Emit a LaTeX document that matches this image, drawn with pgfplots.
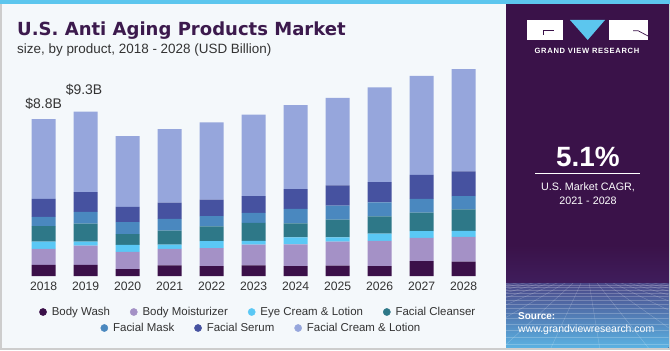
\documentclass[border=0pt]{standalone}
\usepackage{pgfplots}
\pgfplotsset{compat=1.18}
\usepackage{pgfplotstable}
\usepackage{fontspec}
\setmainfont{Liberation Sans}
\newfontfamily\titlefont{DejaVu Sans}
\newfontfamily\logofont{Liberation Sans}[LetterSpace=9]

\definecolor{bw}{HTML}{3B1049}
\definecolor{bm}{HTML}{A491C6}
\definecolor{eye}{HTML}{5AC8F5}
\definecolor{fc}{HTML}{2E7888}
\definecolor{fm}{HTML}{4A88BF}
\definecolor{se}{HTML}{4652A0}
\definecolor{cr}{HTML}{96A6DC}
\definecolor{titlec}{HTML}{3C1A4D}
\definecolor{subc}{HTML}{333333}
\definecolor{panel}{HTML}{3A1249}
\definecolor{panelup}{HTML}{3F1D5C}
\definecolor{strip}{HTML}{5CC6EE}
\definecolor{bgc}{HTML}{F4F8FB}
\definecolor{borderc}{HTML}{CDCDCD}
\definecolor{panelmid}{HTML}{4A4788}
\definecolor{panelbot}{HTML}{5BB2E2}

\pgfplotstableread{
x bw bm eye fc fm se cr
0 0.62 0.90 0.41 0.88 0.52 1.00 4.49
1 0.62 1.09 0.23 1.00 0.66 1.11 4.54
2 0.39 0.97 0.39 0.60 0.68 0.86 3.98
3 0.60 0.92 0.24 0.79 0.66 0.92 4.13
4 0.56 1.01 0.39 0.83 0.58 0.92 4.35
5 0.60 1.17 0.21 1.01 0.56 0.94 4.58
6 0.56 1.22 0.39 0.79 0.81 1.11 4.73
7 0.58 1.35 0.24 1.00 0.79 1.14 4.92
8 0.55 1.42 0.41 0.97 0.79 1.14 5.33
9 0.83 1.31 0.39 1.03 0.77 1.35 5.57
10 0.81 1.39 0.34 1.20 0.75 1.39 5.76
}\data

\begin{document}
\begin{tikzpicture}[x=1bp,y=1bp]
\useasboundingbox (0,0) rectangle (670,350);
% frame and backgrounds
\fill[borderc] (0,0) rectangle (670,350);
\fill[bgc] (1.5,2.5) rectangle (668.5,346);
\fill[strip] (0,345.5) rectangle (670,350);
\fill[panel] (506,2.5) rectangle (668.5,345.5);
\shade[top color=panel, bottom color=panelup] (506,67) rectangle (668.5,105);
\shade[top color=panelmid, bottom color=panelbot] (506,2.5) rectangle (668.5,67);
\begin{scope}
\clip (506,2.5) rectangle (668.5,67);
\foreach \yy in {6,13,20,26,32,37,42,46,50,54,57,60,62.5,64.8}{
  \draw[white, opacity=0.22, line width=0.45] (506,\yy) -- (668.5,\yy);
}
\foreach \xx in {-400,-350,...,1500}{
  \draw[white, opacity=0.22, line width=0.45] (\xx,0) -- ({587+0.06*(\xx-587)},75);
}
\end{scope}
% logo
\fill[white] (527,310) rectangle (563,330);
\draw[panel, line width=0.7] (543.5,315.5) -- (543.5,319.3) -- (554,319.3);
\fill[strip] (570,330) -- (605,330) -- (587.7,310) -- cycle;
\fill[white] (609,310) rectangle (648,330);
\draw[panel, line width=0.7] (633,319.3) -- (638,319.3) -- (648,314);
\node[white, inner sep=0, font=\logofont\bfseries\fontsize{7.6}{9}\selectfont] at (587,299.5) {GRAND VIEW RESEARCH};
% CAGR
\node[anchor=base, white, inner sep=0, font=\bfseries\fontsize{28}{30}\selectfont] at (588,184) {5.1\%};
\draw[white, line width=0.9] (535,177) -- (640,177);
\node[anchor=base, white, inner sep=0, font=\fontsize{10.8}{12}\selectfont] at (588,160) {U.S. Market CAGR,};
\node[anchor=base, white, inner sep=0, font=\fontsize{10.8}{12}\selectfont] at (588,146) {2021 - 2028};
\node[anchor=base west, white, inner sep=0, font=\bfseries\fontsize{10}{12}\selectfont] at (518,31) {Source:};
\node[anchor=base west, white, inner sep=0, font=\fontsize{10.5}{12}\selectfont] at (518,18) {www.grandviewresearch.com};
% titles
\node[anchor=base west, inner sep=0, text=titlec, font=\titlefont\bfseries\fontsize{18.1}{20}\selectfont] at (17,315) {U.S. Anti Aging Products Market};
\node[anchor=base west, inner sep=0, text=subc, font=\fontsize{13.5}{15}\selectfont] at (17,296.7) {size, by product, 2018 - 2028 (USD Billion)};

\begin{axis}[
  at={(22.7bp,74bp)}, anchor=south west,
  scale only axis, width=462bp, height=213.4bp,
  xmin=-0.5, xmax=10.5, ymin=0, ymax=12,
  ybar stacked, bar width=24bp,
  axis line style={draw=none},
  ytick=\empty,
  xtick={0,1,2,3,4,5,6,7,8,9,10},
  xticklabels={2018,2019,2020,2021,2022,2023,2024,2025,2026,2027,2028},
  major tick length=0pt,
  xticklabel style={font=\fontsize{12.2}{14}\selectfont, text=subc, inner sep=0pt, yshift=-5.7bp},
  clip=false,
]
\addplot[fill=bw, draw=none] table[x=x,y=bw]{\data};
\addplot[fill=bm, draw=none] table[x=x,y=bm]{\data};
\addplot[fill=eye, draw=none] table[x=x,y=eye]{\data};
\addplot[fill=fc, draw=none] table[x=x,y=fc]{\data};
\addplot[fill=fm, draw=none] table[x=x,y=fm]{\data};
\addplot[fill=se, draw=none] table[x=x,y=se]{\data};
\addplot[fill=cr, draw=none] table[x=x,y=cr]{\data};
\node[text=subc, font=\fontsize{14}{16}\selectfont] at (axis cs:0,9.67) {\$8.8B};
\node[text=subc, font=\fontsize{14}{16}\selectfont] at (axis cs:0.96,10.46) {\$9.3B};
\end{axis}

\begin{axis}[
  at={(22.7bp,74bp)}, anchor=south west,
  scale only axis, width=462bp, height=213.4bp,
  xmin=0, xmax=1, ymin=0, ymax=1, hide axis,
  legend columns=4,
  legend cell align=left,
  legend style={at={(axis description cs:0.5087,-0.1687)}, anchor=center,
    draw=none, fill=none, inner sep=0pt, text=subc,
    font=\fontsize{11.5}{13}\selectfont,
    nodes={inner sep=1bp},
    /tikz/every odd column/.append style={column sep=4bp},
    /tikz/every even column/.append style={column sep=19bp}},
]
\addlegendimage{legend image code/.code={\fill[bw] (0bp,0bp) circle (3.6bp);}}
\addlegendentry{Body Wash}
\addlegendimage{legend image code/.code={\fill[bm] (0bp,0bp) circle (3.6bp);}}
\addlegendentry{Body Moisturizer}
\addlegendimage{legend image code/.code={\fill[eye] (0bp,0bp) circle (3.6bp);}}
\addlegendentry{Eye Cream \& Lotion}
\addlegendimage{legend image code/.code={\fill[fc] (0bp,0bp) circle (3.6bp);}}
\addlegendentry{Facial Cleanser}
\end{axis}

\begin{axis}[
  at={(22.7bp,74bp)}, anchor=south west,
  scale only axis, width=462bp, height=213.4bp,
  xmin=0, xmax=1, ymin=0, ymax=1, hide axis,
  legend columns=3,
  legend cell align=left,
  legend style={at={(axis description cs:0.5156,-0.2437)}, anchor=center,
    draw=none, fill=none, inner sep=0pt, text=subc,
    font=\fontsize{11.5}{13}\selectfont,
    nodes={inner sep=1bp},
    /tikz/every odd column/.append style={column sep=4bp},
    /tikz/every even column/.append style={column sep=19bp}},
]
\addlegendimage{legend image code/.code={\fill[fm] (0bp,0bp) circle (3.6bp);}}
\addlegendentry{Facial Mask}
\addlegendimage{legend image code/.code={\fill[se] (0bp,0bp) circle (3.6bp);}}
\addlegendentry{Facial Serum}
\addlegendimage{legend image code/.code={\fill[cr] (0bp,0bp) circle (3.6bp);}}
\addlegendentry{Facial Cream \& Lotion}
\end{axis}
\end{tikzpicture}
\end{document}
